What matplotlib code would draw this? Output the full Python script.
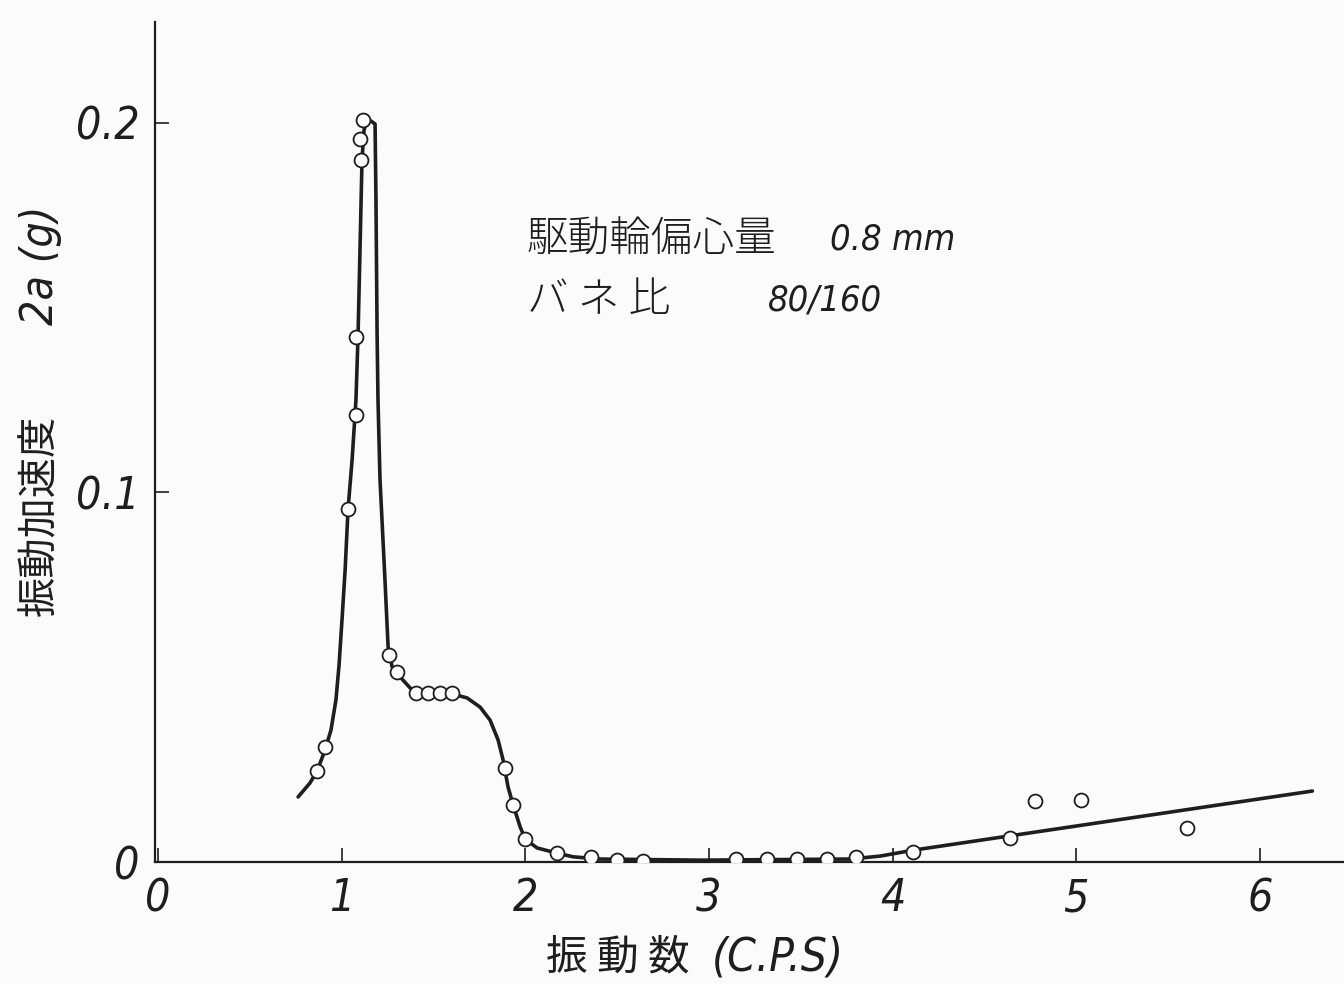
import matplotlib
matplotlib.use("Agg")
import matplotlib.pyplot as plt

# Measured acceleration amplitude vs. vibration frequency
freq_pts = [0.866, 0.910, 1.035, 1.078, 1.078, 1.106, 1.100, 1.117,
            1.258, 1.302, 1.405, 1.471, 1.536, 1.601,
            1.890, 1.934, 1.999, 2.173, 2.358, 2.500, 2.642,
            3.148, 3.317, 3.480, 3.644, 3.802, 4.112,
            4.641, 4.777, 5.027, 5.605]
acc_pts = [0.0246, 0.0311, 0.0955, 0.1210, 0.1421, 0.1900, 0.1957, 0.2008,
           0.0560, 0.0514, 0.0457, 0.0457, 0.0457, 0.0457,
           0.0254, 0.0154, 0.0062, 0.0024, 0.0014, 0.0005, 0.0003,
           0.0008, 0.0008, 0.0008, 0.0008, 0.0014, 0.0027,
           0.0065, 0.0165, 0.0168, 0.0092]

# Hand-faired response curve
curve_freq = [0.763, 0.828, 0.866, 0.910, 0.942, 0.969, 0.986, 1.002, 1.019,
              1.035, 1.057, 1.078, 1.089, 1.100, 1.111, 1.122, 1.138, 1.160,
              1.182, 1.187, 1.193, 1.198, 1.209, 1.236, 1.253, 1.275, 1.318,
              1.373, 1.405, 1.601, 1.683, 1.754, 1.808, 1.852, 1.879, 1.906,
              1.934, 1.972, 1.999, 2.064, 2.173, 2.260, 2.407, 2.952, 3.769,
              3.932, 4.112, 6.285]
curve_acc = [0.0176, 0.0214, 0.0246, 0.0303, 0.0357, 0.0438, 0.0533, 0.0655, 0.0790,
             0.0955, 0.1088, 0.1250, 0.1418, 0.1656, 0.1900, 0.1981, 0.2008, 0.2005,
             0.1997, 0.1792, 0.1432, 0.1250, 0.1034, 0.0763, 0.0582, 0.0528, 0.0501,
             0.0471, 0.0457, 0.0455, 0.0444, 0.0419, 0.0384, 0.0330, 0.0276, 0.0203,
             0.0154, 0.0095, 0.0062, 0.0038, 0.0024, 0.0014, 0.0008, 0.0005, 0.0008,
             0.0016, 0.0032, 0.0192]

x_ticks = [0, 1, 2, 3, 4, 5, 6]
x_ticklabels = ["0", "1", "2", "3", "4", "5", "6"]
y_ticks = [0.0, 0.1, 0.2]
y_ticklabels = ["0", "0.1", "0.2"]

INK = "#1e1e1e"
NUM_FONT = ["DejaVu Sans"]
JP_FONT = ["Noto Sans CJK JP", "DejaVu Sans"]
NUM_KW = dict(family=NUM_FONT, style="italic", stretch="condensed")

fig = plt.figure(figsize=(13.44, 9.84), dpi=100, facecolor="#fbfbfb")
ax = fig.add_axes([155 / 1344, 1 - 862 / 984, 1 - 155 / 1344, (862 - 22) / 984])
ax.set_facecolor("#fbfbfb")

ax.plot(curve_freq, curve_acc, color=INK, lw=2.6, solid_capstyle="round",
        solid_joinstyle="round", zorder=2)
ax.plot(freq_pts, acc_pts, linestyle="none", marker="o", markersize=10,
        markerfacecolor="white", markeredgecolor=INK, markeredgewidth=1.3, zorder=3)

ax.set_xlim(-0.016, 6.457)
ax.set_ylim(0, 0.2273)

for side in ("top", "right"):
    ax.spines[side].set_visible(False)
for side in ("left", "bottom"):
    ax.spines[side].set_color(INK)
    ax.spines[side].set_linewidth(1.6)

ax.set_xticks(x_ticks)
ax.set_xticklabels(x_ticklabels)
ax.set_yticks(y_ticks)
ax.set_yticklabels(y_ticklabels)
ax.tick_params(axis="both", direction="in", length=10, width=1.2, color=INK,
               labelcolor=INK)
ax.tick_params(axis="x", pad=11)
ax.tick_params(axis="y", pad=11)
for lab in ax.get_xticklabels() + ax.get_yticklabels():
    lab.set_fontfamily(NUM_FONT)
    lab.set_fontstyle("italic")
    lab.set_fontstretch("condensed")
    lab.set_fontsize(32)

# Axis titles
fig.text(690 / 1344, 1 - 958 / 984, "振 動 数", fontsize=30, family=JP_FONT,
         color=INK, ha="right", va="center")
fig.text(712 / 1344, 1 - 958 / 984, "(C.P.S)", fontsize=33, color=INK,
         ha="left", va="center", **NUM_KW)
fig.text(40 / 1344, 1 - 515 / 984, "振動加速度", fontsize=29, family=JP_FONT,
         color=INK, rotation=90, ha="center", va="center")
fig.text(40 / 1344, 1 - 265 / 984, "2a (g)", fontsize=32, color=INK,
         rotation=90, ha="center", va="center", **NUM_KW)

# Test conditions
fig.text(527 / 1344, 1 - 240 / 984, "駆動輪偏心量", fontsize=30, family=JP_FONT,
         color=INK, ha="left", va="center", fontweight="light")
fig.text(830 / 1344, 1 - 240 / 984, "0.8 mm", fontsize=26, color=INK,
         ha="left", va="center", **NUM_KW)
fig.text(527 / 1344, 1 - 300 / 984, "バ ネ 比", fontsize=30, family=JP_FONT,
         color=INK, ha="left", va="center", fontweight="light")
fig.text(768 / 1344, 1 - 300 / 984, "80/160", fontsize=26, color=INK,
         ha="left", va="center", **NUM_KW)

fig.savefig("out.png", dpi=100, facecolor=fig.get_facecolor())
